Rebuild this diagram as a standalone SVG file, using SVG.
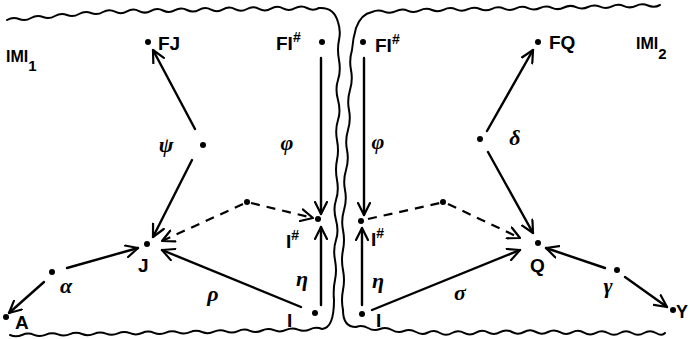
<svg xmlns="http://www.w3.org/2000/svg" width="690" height="339" viewBox="0 0 690 339">
<style>
.b{fill:none;stroke:#000;stroke-width:2;stroke-linecap:round;stroke-linejoin:round}
.e{fill:none;stroke:#000;stroke-width:2.4;stroke-linecap:round}
.d{fill:none;stroke:#000;stroke-width:2.2;stroke-dasharray:9,7}
.t{font-family:"Liberation Sans",Arial,sans-serif;font-weight:bold;font-size:19px;fill:#000}
.g{font-family:"Liberation Serif","DejaVu Serif",serif;font-style:italic;font-weight:bold;font-size:22px;fill:#000;text-anchor:middle}
.sup{font-size:14px}
circle{fill:#000}
</style>
<defs>
<marker id="ah" viewBox="0 0 14 14" refX="13" refY="7" markerWidth="14" markerHeight="14" markerUnits="userSpaceOnUse" orient="auto">
<path d="M1,1 L13,7 L1,13" fill="none" stroke="#000" stroke-width="2.2" stroke-linecap="round" stroke-linejoin="round"/>
</marker>
</defs>
<g id="borders">
<path class="b" d="M7,20 Q13,16.5 19,19 T31,18 T43,17 T55,16 T67,15 T79,14 T91,13 T103,12 T115,11.7 T127,11.4 T139,11.1 T151,10.8 T163,10.5 T175,10.2 T187,10 T199,9.8 T211,9.6 T223,9.4 T235,9.2 T247,9 T259,8.8 T271,8.6 T283,8.4 T295,8.2 T307,8 T319,8 Q334,7 338,22 Q341,31 339,40 T339,60 T338,80 T338,100 T338,120 T337,140 T337,160 T337,180 T336,200 T336,220 T336,240 T335,260 T335,280 T334,300 Q334,328 322,329 Q316,326.5 310,329.3 T298,329.6 T286,329.9 T274,330.2 T262,330.5 T250,330.8 T238,331.1 T226,331.4 T214,331.7 T202,332 T190,332.2 T178,332.4 T166,332.6 T154,332.8 T142,333 T130,333.2 T118,333.4 T106,333.6 T94,333.8 T82,334 T70,334.2 T58,334.4 T46,334.6 T34,334.8 T22,335 T10,335"/>
<path class="b" d="M343,310 Q341,300 343,290 T343,270 T343,250 T343,230 T344,210 T345,190 T346,170 T347,150 T348,130 T349,110 T350,90 T351,70 T352,50 Q353,38 356,28 Q361,14 372,12 Q378,9 384,11.6 T396,11.2 T408,10.8 T420,10.4 T432,10 T444,9.6 T456,9.4 T468,9.2 T480,9 T492,8.8 T504,8.6 T516,8.4 T528,8.2 T540,8 T552,7.8 T564,7.5 T576,7.2 T588,7 T600,6.7 T612,6.4 T624,6.1 T636,5.8 T648,5.5 T660,5"/>
<path class="b" d="M343,310 C343,322 348,327 356,327 Q362,324.5 368,328 T380,329 T392,330 T404,331 T416,332 T428,332.5 T440,333 T452,333 T464,332.8 T476,332.6 T488,332.4 T500,332.2 T512,332 T524,332 T536,332 T548,332 T560,332.2 T572,332.4 T584,332.6 T596,332.8 T608,333 T620,333 T632,333 T644,333 T656,333 T665,333"/>
</g>
<g id="connectors">
<line class="e" x1="195" y1="129" x2="153" y2="50" marker-end="url(#ah)"/>
<line class="e" x1="192" y1="160" x2="153" y2="237" marker-end="url(#ah)"/>
<line class="e" x1="321" y1="58" x2="321" y2="214" marker-end="url(#ah)"/>
<line class="e" x1="321" y1="305" x2="321" y2="227" marker-end="url(#ah)"/>
<line class="d" x1="243" y1="204" x2="162" y2="241" marker-end="url(#ah)"/>
<line class="d" x1="251" y1="203" x2="313" y2="218" marker-end="url(#ah)"/>
<line class="e" x1="301" y1="307" x2="162" y2="250" marker-end="url(#ah)"/>
<line class="e" x1="67" y1="268" x2="138" y2="248" marker-end="url(#ah)"/>
<line class="e" x1="44" y1="282" x2="9" y2="313" marker-end="url(#ah)"/>
<line class="e" x1="487" y1="131" x2="533" y2="50" marker-end="url(#ah)"/>
<line class="e" x1="488" y1="152" x2="533" y2="233" marker-end="url(#ah)"/>
<line class="e" x1="364" y1="58" x2="364" y2="215" marker-end="url(#ah)"/>
<line class="e" x1="362" y1="305" x2="362" y2="228" marker-end="url(#ah)"/>
<line class="d" x1="368" y1="219" x2="440" y2="203"/>
<line class="d" x1="448" y1="204" x2="520" y2="238" marker-end="url(#ah)"/>
<line class="e" x1="372" y1="310" x2="520" y2="250" marker-end="url(#ah)"/>
<line class="e" x1="605" y1="268" x2="546" y2="248" marker-end="url(#ah)"/>
<line class="e" x1="625" y1="277" x2="667" y2="307" marker-end="url(#ah)"/>
</g>
<g id="M1"><text class="t" x="6" y="62" style="font-size:16px">IMI<tspan dy="9" style="font-size:15px">1</tspan></text></g>
<g id="M2"><text class="t" x="636" y="49" style="font-size:16px">IMI<tspan dy="10" style="font-size:15px">2</tspan></text></g>
<g id="FJ"><circle cx="148" cy="42" r="3"/><text class="t" x="158" y="50">FJ</text></g>
<g id="FIs1"><circle cx="322" cy="42" r="3"/><text class="t" x="276" y="50">FI<tspan class="sup" dy="-8">#</tspan></text></g>
<g id="psi"><circle cx="203" cy="145" r="3"/><text class="g" x="166" y="152">ψ</text></g>
<g id="phi1"><text class="g" x="287" y="150">φ</text></g>
<g id="J"><circle cx="147" cy="244" r="3"/><text class="t" x="138" y="272">J</text></g>
<g id="alpha"><circle cx="52" cy="272" r="3"/><text class="g" x="66" y="293">α</text></g>
<g id="A"><circle cx="6" cy="317" r="3"/><text class="t" x="15" y="329">A</text></g>
<g id="span1"><circle cx="247" cy="202" r="3"/></g>
<g id="Is1"><circle cx="318" cy="219" r="3"/><text class="t" x="286" y="248">I<tspan class="sup" dy="-8">#</tspan></text></g>
<g id="eta1"><text class="g" x="302" y="286">η</text></g>
<g id="I1"><circle cx="315" cy="313" r="3"/><text class="t" x="287" y="327">I</text></g>
<g id="rho"><text class="g" x="213" y="301">ρ</text></g>
<g id="FIs2"><circle cx="363" cy="42" r="3"/><text class="t" x="375" y="52">FI<tspan class="sup" dy="-8">#</tspan></text></g>
<g id="FQ"><circle cx="538" cy="42" r="3"/><text class="t" x="549" y="49">FQ</text></g>
<g id="delta"><circle cx="480" cy="139" r="3"/><text class="g" x="515" y="145">δ</text></g>
<g id="phi2"><text class="g" x="378" y="149">φ</text></g>
<g id="Is2"><circle cx="361" cy="221" r="3"/><text class="t" x="371" y="246">I<tspan class="sup" dy="-8">#</tspan></text></g>
<g id="eta2"><text class="g" x="378" y="288">η</text></g>
<g id="I2"><circle cx="362" cy="314" r="3"/><text class="t" x="376" y="327">I</text></g>
<g id="span2"><circle cx="443" cy="202" r="3"/></g>
<g id="Q"><circle cx="538" cy="243" r="3"/><text class="t" x="530" y="272">Q</text></g>
<g id="sigma"><text class="g" x="460" y="300">σ</text></g>
<g id="gamma"><circle cx="617" cy="270" r="3"/><text class="g" x="608" y="293">γ</text></g>
<g id="Y"><circle cx="673" cy="310" r="3"/><text class="t" x="676" y="318" style="font-size:18px">Y</text></g>
</svg>
